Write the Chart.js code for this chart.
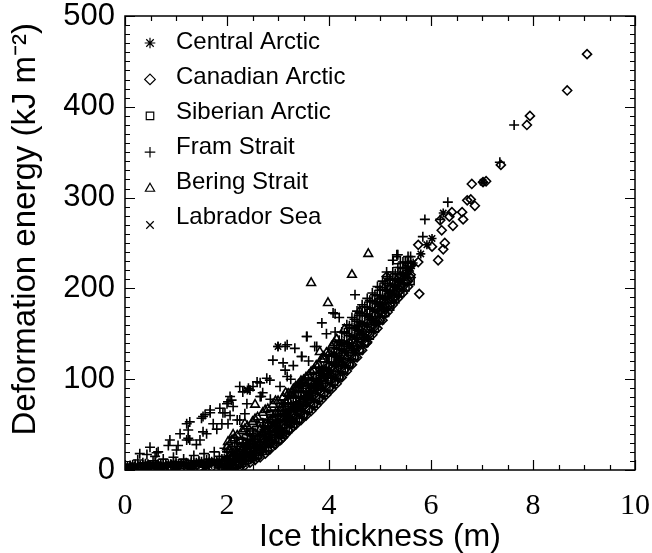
<!DOCTYPE html>
<html>
<head>
<meta charset="utf-8">
<script src="https://cdn.jsdelivr.net/npm/chart.js@4.4.0/dist/chart.umd.min.js"></script>
<style>
  html, body { margin: 0; padding: 0; background: #fff; }
</style>
</head>
<body>
<canvas id="energyChart" width="652" height="553"></canvas>
<script>
// [ice thickness (m), deformation energy (kJ m-2)]
const centralArctic = [
  [0.1,1],[0.25,3],[0.4,2],[0.55,4],[0.7,2],[0.85,5],[1.0,3],[1.15,5],[1.3,3],[1.45,6],[1.6,4],[1.75,7],[1.9,5],
  [0.05,2],[0.15,1],[0.35,3],[0.45,2],[0.65,3],[0.75,2],[0.95,3],[1.05,2],[1.25,2],[1.35,4],[1.55,3],[1.65,5],
  [1.85,5],[1.95,3],
  [0.05,5],[0.15,6],[0.25,5],[0.35,6],[0.45,7],[0.55,6],[0.65,7],[0.75,6],[0.85,7],[0.95,8],[1.05,7],[1.15,8],
  [1.25,7],[1.35,8],[1.45,9],[1.55,8],[1.65,9],[1.75,10],[1.85,9],[1.95,11],
  [2.0,6],[2.1,9],[2.2,13],[2.3,11],[2.4,18],[2.5,16],[2.6,25],[2.7,22],[2.8,33],[2.9,30],
  [3.0,44],[3.1,40],[3.2,56],[3.3,54],[3.4,68],[3.5,65],[3.6,80],[3.7,77],[3.8,93],[3.9,89],
  [4.0,106],[4.1,102],[4.2,120],[4.3,116],[4.4,136],[4.5,132],[4.6,150],[4.7,146],[4.8,166],[4.9,162],
  [5.0,180],[5.1,177],[5.2,194],[5.29,202],[5.35,208],[5.45,215],[5.49,213],[5.55,220],[5.65,228],[5.8,238],
  [5.92,248],[6.02,255],[6.24,283],[7.02,317],
  [3.0,136],[2.4,88],[3.45,96],[4.1,128],[4.55,158],[3.15,64],[3.65,92],[4.25,138],[2.95,52],[3.85,110],
  [2.05,6],[2.15,9],[2.25,12],[2.35,15],[2.45,18],[2.55,22],[2.65,26],[2.75,31],[2.85,36],[2.95,41],
  [3.05,47],[3.15,53],[3.25,59],[3.35,65],[3.45,71],[3.55,76],[3.65,82],[3.75,88],[3.85,95],[3.95,101],
  [4.05,108],[4.15,115],[4.25,122],[4.35,129],[4.45,137],[4.55,144],[4.65,152],[4.75,160],[4.85,167],[4.95,174],
  [5.05,182],[5.15,189],[5.25,196],[5.35,202],[5.45,209],[5.55,215],
  [2.05,9],[2.15,12],[2.25,16],[2.35,20],[2.45,24],[2.55,28],[2.65,32],[2.75,37],[2.85,42],[2.95,48],
  [3.05,54],[3.15,60],[3.25,67],[3.35,73],[3.45,79],[3.55,85],[3.65,91],[3.75,97],[3.85,104],[3.95,110],
  [4.05,117],[4.15,124],[4.25,132],[4.35,140],[4.45,147],[4.55,154],[4.65,162],[4.75,170],[4.85,177],[4.95,183],
  [5.05,190],[5.15,197],[5.25,203],[5.35,209],[5.45,215],[5.55,222],
  [2.0,14],[2.1,19],[2.2,22],[2.3,26],[2.4,30],[2.5,34],[2.6,38],[2.7,42],[2.8,46],[2.9,51],[3.0,55],[3.1,60],
  [3.2,65],[3.3,70],[3.4,75],[3.5,80],[3.6,86],[3.7,92],[3.8,98],[3.9,104],[4.0,110],[4.1,116],[4.2,123],[4.3,131],
  [4.4,138],[4.5,146],[4.6,153],[4.7,160],[4.8,168],[4.9,175],[5.0,183],[5.1,190],[5.2,196],[5.3,202],[5.4,209],
  [5.5,215],[5.6,222]
];
const canadianArctic = [
  [2.6,14],[2.8,22],[3.0,32],[3.1,36],[3.2,44],[3.3,48],[3.4,55],[3.5,60],[3.6,66],[3.7,72],[3.8,78],[3.9,84],
  [4.0,90],[4.1,96],[4.2,102],[4.3,110],[4.4,116],[4.5,124],[4.6,132],[4.7,140],[4.74,140],[4.8,150],[4.9,158],
  [5.0,165],[5.1,172],[5.2,182],[5.3,190],[5.4,198],[5.5,208],[5.6,212],
  [4.0,115],[4.4,140],[4.8,175],[5.2,200],[5.6,225],[5.0,188],[4.2,125],[4.6,155],[3.8,98],[5.4,214],
  [5.13,206],[5.13,213],[5.55,226],[5.75,229],[5.75,248],[5.77,194],[6.02,246],[6.14,231],[6.18,275],[6.21,264],
  [6.24,243],[6.27,250],[6.36,279],[6.41,284],[6.43,269],[6.61,284],[6.63,276],[6.71,297],[6.78,298],[6.86,291],
  [6.80,315],[7.02,317],[7.08,318],[7.37,336],[7.88,380],[7.94,390],[8.67,418],[9.06,458],
  [2.05,1],[2.15,2],[2.25,3],[2.35,5],[2.45,8],[2.55,11],[2.65,14],[2.75,18],[2.85,23],[2.95,28],
  [3.05,33],[3.15,39],[3.25,45],[3.35,50],[3.45,55],[3.55,60],[3.65,65],[3.75,71],[3.85,77],[3.95,83],
  [4.05,89],[4.15,95],[4.25,102],[4.35,109],[4.45,116],[4.55,124],[4.65,132],[4.75,141],[4.85,149],[4.95,156],
  [5.05,165],[5.15,174],[5.25,182],[5.35,189],[5.45,195],[5.55,202],
  [4.55,134],[4.65,142],[4.75,150],[4.85,158],[4.95,165],[5.05,173],[5.15,181],[5.25,189],[5.35,195],[5.45,202],
  [5.55,208],
  [0.1,1],[0.3,2],[0.5,1],[0.7,2],[0.9,1],[1.1,2],[1.3,2],[1.5,1],[1.7,3],[1.9,2],
  [2.0,8],[2.1,12],[2.2,14],[2.3,17],[2.4,20],[2.5,24],[2.6,27],[2.7,32],[2.8,36],[2.9,40],[3.0,44],[3.1,49],
  [3.2,55],[3.3,60],[3.4,65],[3.5,70],[3.6,76],[3.7,82],[3.8,88],[3.9,94],[4.0,100],[4.1,106],[4.2,113],[4.3,120],
  [4.4,128],[4.5,135],[4.6,142],[4.7,150],[4.8,158],[4.9,165],[5.0,174],[5.1,181],[5.2,188],[5.3,195],[5.4,202],
  [5.5,208],[5.6,215]
];
const siberianArctic = [
  [1.9,2],[2.1,4],[2.3,8],[2.5,14],[2.6,20],[2.7,26],[2.8,30],[2.94,35],[3.0,42],[3.1,50],[3.2,54],[3.3,60],
  [3.4,64],[3.5,74],[3.6,78],[3.7,88],[3.8,92],[3.9,102],[4.0,100],[4.2,118],[4.4,130],[4.6,145],[5.33,231],
  [2.45,24],[3.05,58],
  [2.05,3],[2.15,5],[2.25,7],[2.35,10],[2.45,13],[2.55,16],[2.65,20],[2.75,24],[2.85,29],[2.95,34],
  [3.05,40],[3.15,46],[3.25,52],[3.35,57],[3.45,63],[3.55,68],[3.65,74],[3.75,80],[3.85,86],[3.95,92],
  [4.05,98],[4.15,105],[4.25,112],[4.35,119],[4.45,126],
  [2.0,3],[2.1,5],[2.2,6],[2.3,8],[2.4,11],[2.5,14],[2.6,17],[2.7,21],[2.8,25],[2.9,29],[3.0,33],[3.1,39],
  [3.2,45],[3.3,51],[3.4,56],[3.5,61],[3.6,67],[3.7,73],[3.8,79],[3.9,85],[4.0,91],[4.1,97],[4.2,103],[4.3,110],
  [4.4,117],[4.5,125],[4.6,132],[4.7,140],[4.8,148],[4.9,156],[5.0,165],[5.1,173],[5.2,180],[5.3,188],[5.4,195],
  [5.5,201],[5.6,208],
  [2.25,32],[2.45,42],[2.65,52],[2.85,62],[3.05,73],[3.25,85]
];
const framStrait = [
  [0.05,0],[0.15,2],[0.25,4],[0.29,18],[0.35,8],[0.45,5],[0.49,25],[0.55,10],[0.62,19],[0.65,6],[0.75,12],
  [0.85,4],[0.88,33],[0.95,14],[1.01,22],[1.05,7],[1.08,40],[1.15,12],[1.21,51],[1.21,33],[1.27,33],[1.3,8],
  [1.35,16],[1.4,28],[1.45,10],[1.53,59],[1.55,18],[1.6,40],[1.65,12],[1.67,63],[1.73,51],[1.75,20],[1.8,45],
  [1.85,15],[1.92,63],[1.95,24],[2.0,73],[2.06,81],[2.12,70],[2.15,30],[2.2,55],[2.25,92],[2.35,62],[2.39,73],
  [2.45,40],[2.51,92],[2.65,96],[2.65,81],[2.7,85],[2.78,101],[2.85,78],[2.9,121],[3.0,136],[3.04,92],[3.1,118],
  [3.14,136],[3.18,103],[3.25,100],[3.3,115],[3.33,134],[3.47,125],[3.57,147],[3.6,120],[3.76,136],[3.86,162],
  [3.95,150],[4.08,173],[4.12,152],[4.2,168],[4.51,193],[5.13,218],[5.25,231],[5.33,237],[5.35,237],[5.84,257],
  [5.88,276],[6.18,276],[6.33,295],[7.35,339],[7.63,380],
  [2.2,18],[2.4,28],[2.6,38],[2.8,48],[3.0,60],[3.2,72],[3.4,86],[3.6,100],[3.8,112],[4.0,126],[4.2,140],
  [4.4,156],[4.6,170],[4.8,185],[5.0,198],[5.2,210],[5.5,228],
  [0.1,5],[0.2,6],[0.3,5],[0.4,7],[0.5,5],[0.6,8],[0.7,6],[0.8,7],[0.9,6],[1.0,9],[1.1,7],[1.2,8],[1.3,10],
  [1.4,8],[1.5,9],[1.6,11],[1.7,9],[1.8,10],[1.9,12],[2.0,10],
  [0.43,17],[0.59,15],[0.85,27],[1.04,27],[1.24,44],[1.24,35],[1.47,33],[1.27,53],[1.57,61],[1.96,63],
  [2.02,75],[2.31,86],[2.59,97],[1.9,51],[2.02,51],[1.53,42],[0.65,20],[0.25,11],
  [1.5,57],[1.67,66],[1.86,68],[2.06,60],[2.09,77],[2.25,55],[2.42,90],[2.45,88],[2.67,81],[2.84,99],
  [3.14,110],[3.18,138],[3.46,125],[3.72,136],[3.56,147],[4.12,172],
  [2.05,12],[2.15,16],[2.25,20],[2.35,25],[2.45,29],[2.55,34],[2.65,38],[2.75,43],[2.85,49],[2.95,55],
  [3.05,61],[3.15,67],[3.25,74],[3.35,81],[3.45,87],[3.55,93],[3.65,99],[3.75,106],[3.85,113],[3.95,119],
  [4.05,127],[4.15,134],[4.25,142],[4.35,150],[4.45,157],[4.55,164],[4.65,172],[4.75,179],[4.85,186],[4.95,192],
  [5.05,199],[5.15,205],[5.25,210],[5.35,216],[5.45,222],[5.55,228],
  [4.25,152],[4.35,160],[4.45,168],[4.55,175],[4.65,182],[4.75,189],[4.85,195],[4.95,202],[5.05,208],[5.15,213],
  [5.25,218],[5.35,223],[5.45,229],[5.55,235],
  [2.0,20],[2.1,26],[2.2,30],[2.3,34],[2.4,39],[2.5,43],[2.6,48],[2.7,52],[2.8,56],[2.9,61],[3.0,65],[3.1,70],
  [3.2,74],[3.3,80],[3.4,85],[3.5,90],[3.6,95],[3.7,101],[3.8,107],[3.9,113],[4.0,119],[4.1,126],[4.2,133],
  [4.3,141],[4.4,148],[4.5,156],[4.6,163],[4.7,170],[4.8,177],[4.9,184],[5.0,192],[5.1,198],[5.2,203],[5.3,209],
  [5.4,216],[5.5,222],[5.6,228],
  [4.1,135],[4.2,143],[4.3,151],[4.4,159],[4.5,166],[4.6,173],[4.7,180],[4.8,187],[4.9,193],[5.0,201],[5.1,206],
  [5.2,211],[5.3,216],[5.4,223],[5.5,229],[5.6,235]
];
const beringStrait = [
  [1.9,0],[2.02,31],[2.1,1],[2.12,39],[2.2,6],[2.3,14],[2.35,51],[2.4,20],[2.5,28],[2.55,72],[2.6,34],[2.7,42],
  [2.8,50],[2.9,56],[3.0,62],[3.1,68],[3.2,76],[3.3,82],[3.4,90],[3.5,96],[3.6,104],[3.7,110],[3.82,130],
  [3.9,125],[3.98,184],[3.65,206],[4.1,140],[4.3,155],[4.45,215],[4.6,175],[4.77,238],
  [2.05,15],[2.15,20],[2.25,25],[2.35,30],[2.45,35],[2.55,40],[2.65,45],[2.75,50],[2.85,55],[2.95,62],
  [3.05,68],[3.15,75],[3.25,82],[3.35,89],[3.45,95],[3.55,102],[3.65,108],[3.75,115],[3.85,122],[3.95,129],
  [4.05,136],[4.15,144],
  [2.0,25],[2.1,33],[2.2,38],[2.3,43],[2.4,48],[2.5,53],[2.6,58],[2.7,63],[2.8,67],[2.9,72],[3.0,76],[3.1,80],
  [3.2,84],[3.3,89],[3.4,94],[3.5,99],[3.6,104],[3.7,110],[3.8,116],[3.9,122],[4.0,128],
  [2.05,22],[2.15,35],[2.35,45],[2.55,56],[2.75,66],[2.95,76],[3.15,85],[3.35,92],[3.45,98]
];
const labradorSea = [[2.5,10],[3.0,38],[3.4,60],[3.8,100],[4.2,125],[4.6,160],[5.0,190]];

const seriesNames = ['Central Arctic', 'Canadian Arctic', 'Siberian Arctic', 'Fram Strait', 'Bering Strait', 'Labrador Sea'];
const seriesData = [centralArctic, canadianArctic, siberianArctic, framStrait, beringStrait, labradorSea];
const xTicks = [0, 2, 4, 6, 8, 10];
const yTicks = [0, 100, 200, 300, 400, 500];

const markers = ['star', 'rectRot', 'rect', 'cross', 'triangle', 'crossRot'];
const markerRadius = [4.5, 4.5, 5, 5, 5, 4.5];
const sans = '"Liberation Sans", Arial, Helvetica, sans-serif';
const serif = '"Liberation Serif", "Times New Roman", serif';

// IDL style frame: box with inward ticks on all four sides, plus the legend
const frameTicks = {
  id: 'frameTicks',
  afterDatasetsDraw(chart) {
    const {ctx, chartArea: a, scales: {x, y}} = chart;
    ctx.save();
    ctx.strokeStyle = '#000';
    ctx.lineWidth = 1.5;
    ctx.strokeRect(a.left, a.top, a.right - a.left, a.bottom - a.top);
    ctx.lineWidth = 1.2;
    ctx.beginPath();
    for (let v = 0; v <= 10; v += 0.5) {
      const px = Math.round(x.getPixelForValue(v)) + 0.5;
      const len = v % 2 === 0 ? 10 : 5;
      ctx.moveTo(px, a.bottom); ctx.lineTo(px, a.bottom - len);
      ctx.moveTo(px, a.top); ctx.lineTo(px, a.top + len);
    }
    for (let v = 0; v <= 500; v += 10) {
      const py = Math.round(y.getPixelForValue(v)) + 0.5;
      const len = v % 100 === 0 ? 10 : 5;
      ctx.moveTo(a.left, py); ctx.lineTo(a.left + len, py);
      ctx.moveTo(a.right, py); ctx.lineTo(a.right - len, py);
    }
    ctx.stroke();

    // legend in the upper left corner of the plot
    ctx.font = '24px ' + sans;
    ctx.textBaseline = 'middle';
    ctx.textAlign = 'left';
    seriesNames.forEach((name, i) => {
      ctx.fillStyle = 'rgba(0,0,0,0)';
      ctx.strokeStyle = '#000';
      ctx.lineWidth = 1.2;
      Chart.helpers.drawPoint(ctx, {pointStyle: markers[i], radius: 5.3, borderWidth: 1.2, rotation: 0},
        a.left + 25, a.top + 27 + i * 36.4);
      ctx.fillStyle = '#000';
      ctx.fillText(name, a.left + 51, a.top + 26 + i * 35);
    });
    ctx.restore();
  }
};

const datasets = seriesNames.map((name, i) => ({
  label: name,
  data: seriesData[i].map(p => ({x: p[0], y: p[1]})),
  pointStyle: markers[i],
  pointRadius: markerRadius[i],
  borderColor: '#000',
  backgroundColor: 'rgba(0,0,0,0)',
  borderWidth: 1.6
}));

new Chart(document.getElementById('energyChart'), {
  type: 'scatter',
  data: { datasets: datasets },
  plugins: [frameTicks],
  options: {
    responsive: false,
    animation: false,
    events: [],
    layout: { padding: { top: 16, right: 17, left: 0, bottom: 0 } },
    plugins: {
      tooltip: { enabled: false },
      legend: { display: false }
    },
    scales: {
      x: {
        type: 'linear',
        min: 0, max: 10,
        afterFit(scale) {
          scale.height = 83;
          scale.paddingLeft = 0;
          scale.paddingRight = 0;
        },
        afterBuildTicks(scale) { scale.ticks = xTicks.map(v => ({value: v})); },
        grid: { display: false, drawTicks: false },
        border: { display: false },
        ticks: {
          color: '#000', padding: 21, maxRotation: 0, autoSkip: false,
          font: { family: serif, size: 30, lineHeight: 1 }
        },
        title: {
          display: true, text: 'Ice thickness (m)', color: '#000',
          font: { family: sans, size: 32, lineHeight: 1 }, padding: { top: 0, bottom: 0 }
        }
      },
      y: {
        type: 'linear',
        min: 0, max: 500,
        afterFit(scale) {
          scale.width = 125;
          scale.paddingTop = 0;
          scale.paddingBottom = 0;
        },
        afterBuildTicks(scale) { scale.ticks = yTicks.map(v => ({value: v})); },
        grid: { display: false, drawTicks: false },
        border: { display: false },
        ticks: {
          color: '#000', padding: 10,
          font: { family: sans, size: 31, lineHeight: 1 }
        },
        title: {
          display: true, text: '   Deformation energy (kJ m\u207B\u00B2)', color: '#000',
          font: { family: sans, size: 33, lineHeight: 1 }, padding: { top: 9, bottom: 0 }
        }
      }
    }
  }
});
</script>
</body>
</html>
